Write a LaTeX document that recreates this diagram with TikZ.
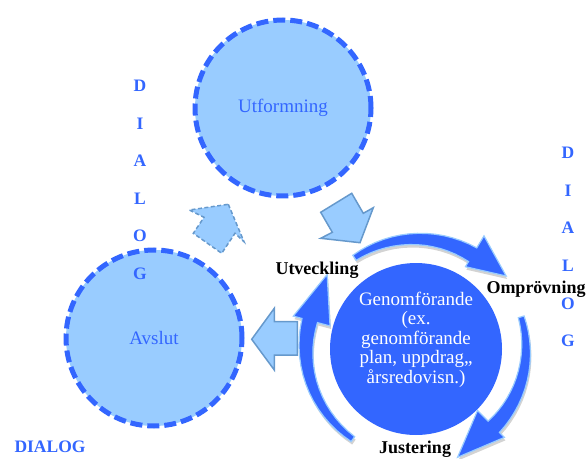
\documentclass[tikz,border=0pt]{standalone}
\usepackage{fontspec}
\setmainfont{Liberation Serif}
\usetikzlibrary{shadows}

\definecolor{dlgblue}{HTML}{3366FF}
\definecolor{paleblue}{HTML}{99CCFF}
\definecolor{edgeblue}{HTML}{6699CC}

\begin{document}
\begin{tikzpicture}[x=1pt,y=1pt,
  phase/.style={circle,minimum size=176pt,inner sep=0pt,fill=paleblue,draw=dlgblue,line width=5pt,dash pattern=on 12pt off 5pt,text=dlgblue,font=\fontsize{19}{21}\selectfont},
  core/.style={circle,minimum size=172pt,inner sep=0pt,fill=dlgblue},
  coretext/.style={align=center,inner sep=0pt,text=white,font=\fontsize{19}{19.5}\selectfont},
  cycarrow/.style={fill=dlgblue,draw=paleblue,line width=1.2pt,drop shadow={shadow xshift=1pt,shadow yshift=-3pt,opacity=0.35}},
  flowarrow/.style={fill=paleblue,draw=edgeblue,line width=1.5pt,line join=miter},
  steplabel/.style={anchor=base,inner sep=0pt,font=\fontsize{18}{20}\selectfont\bfseries},
  dialog/.style={anchor=base,inner sep=0pt,text=dlgblue,font=\fontsize{17.5}{20}\selectfont\bfseries}]

\useasboundingbox (0,0) rectangle (588,458);

\node[phase] (utf) at (283,350) {Utformning};
\node[phase] (avs) at (154,120) {Avslut};

% tapered cycle arrows round the core
\coordinate (hub) at (416,109);
\begin{scope}[shift={(hub)}]
\foreach \st/\en/\tip/\hin/\hout in {124/59/39/96/132, 17/-45/-69/87/125, 235/165/140/89/127} {
  \draw[cycarrow] plot[domain=0:1,samples=16,variable=\t] ({\st+(\en-\st)*\t}:{113+5*\t}) -- (\en:\hout) -- (\tip:116) -- (\en:\hin)
    -- plot[domain=1:0,samples=16,variable=\t] ({\st+(\en-\st)*\t}:{107-5*\t}) -- cycle;
}
\end{scope}

\node[core] (gen) at (hub) {};
\node[coretext] (gentxt) at ([yshift=9.5pt]gen.center) {Genomförande\\(ex.\\genomförande\\plan, uppdrag,,\\årsredovisn.)};

% block arrows between the phases
\draw[flowarrow] (320.7,245.7) -- (351.7,264.7) -- (363.3,244.7) -- (373.3,250.3) -- (360,215.3) -- (320.7,219.7) -- (332.3,225.7) -- cycle;
\draw[flowarrow,dash pattern=on 4pt off 2.5pt] (228.3,253.7) -- (244,216.3) -- (235,224.7) -- (221.7,204.7) -- (193.3,224.7) -- (204,240.7) -- (189.3,248) -- cycle;
\draw[flowarrow] (251.7,118.7) -- (274.3,149.7) -- (274.3,136.3) -- (297.3,136.3) -- (297.3,103) -- (274.3,103) -- (274.3,88) -- cycle;

\node[steplabel] (utv) at (317,183) {Utveckling};
\node[steplabel] (omp) at (536,165) {Omprövning};
\node[steplabel] (jus) at (415,5) {Justering};

\foreach \ch [count=\i] in {D,I,A,L,O,G} {
  \node[dialog] (dl\i) at (140,{366-37.5*(\i-1)}) {\ch};
  \node[dialog] (dr\i) at (568,{299-37.5*(\i-1)}) {\ch};
}
\node[dialog] (dlg) at (50,6) {DIALOG};
\end{tikzpicture}
\end{document}
